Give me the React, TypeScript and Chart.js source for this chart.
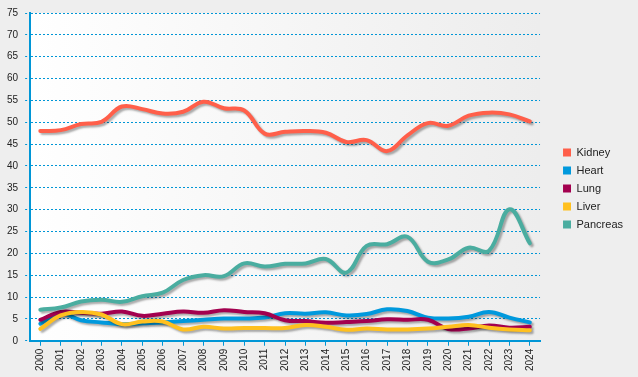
import React, { useEffect, useRef } from "react";
import { Chart, registerables } from "chart.js";

Chart.register(...registerables);

const years = [
  "2000", "2001", "2002", "2003", "2004", "2005", "2006", "2007", "2008", "2009",
  "2010", "2011", "2012", "2013", "2014", "2015", "2016", "2017", "2018", "2019",
  "2020", "2021", "2022", "2023", "2024",
];

const kidney = [48.0, 48.2, 49.6, 50.1, 53.6, 53.0, 52.0, 52.4, 54.7, 53.2, 52.7, 47.4, 47.8, 48.0, 47.6, 45.5, 45.9, 43.4, 47.0, 49.8, 49.2, 51.5, 52.2, 51.8, 50.2];
const heart = [3.9, 6.2, 4.7, 4.2, 3.8, 4.0, 4.2, 4.5, 4.8, 5.1, 5.1, 5.3, 6.3, 6.2, 6.5, 5.8, 6.1, 7.2, 6.8, 5.3, 5.1, 5.5, 6.6, 5.3, 4.2];
const lung = [4.8, 6.6, 6.4, 6.2, 6.7, 5.7, 6.2, 6.7, 6.4, 7.0, 6.6, 6.3, 4.7, 4.5, 4.1, 4.3, 4.5, 4.9, 4.8, 4.8, 2.7, 2.8, 3.5, 3.0, 3.2];
const liver = [2.7, 5.8, 6.6, 6.0, 3.8, 4.4, 4.4, 2.6, 3.2, 2.8, 2.9, 2.9, 2.9, 3.6, 3.2, 2.5, 2.8, 2.6, 2.6, 2.8, 3.2, 3.6, 3.0, 2.6, 2.4];
const pancreas = [7.1, 7.6, 9.0, 9.4, 8.9, 10.2, 11.0, 13.9, 15.0, 14.8, 17.7, 17.0, 17.6, 17.7, 18.7, 15.6, 21.7, 22.1, 23.8, 18.1, 18.6, 21.3, 20.6, 30.1, 22.3];

const seriesNames = ["Kidney", "Heart", "Lung", "Liver", "Pancreas"];
const seriesColors = ["#ff5f4a", "#0099dd", "#a3004f", "#ffc01f", "#4aada0"];
const seriesData = [kidney, heart, lung, liver, pancreas];

const yTicks = [0, 5, 10, 15, 20, 25, 30, 35, 40, 45, 50, 55, 60, 65, 70, 75];

const AXIS_BLUE = "#0096d6";

const bgPlugin = {
  id: "bgPlugin",
  afterLayout(chart: any) {
    if (chart.legend) {
      chart.legend.top -= 2;
      chart.legend.bottom -= 2;
    }
  },
  beforeDraw(chart: any) {
    const { ctx, chartArea, width, height } = chart;
    ctx.save();
    ctx.fillStyle = "#eeeeee";
    ctx.fillRect(0, 0, width, height);
    if (chartArea) {
      const g = ctx.createLinearGradient(chartArea.left, 0, chartArea.right, 0);
      g.addColorStop(0, "#ffffff");
      g.addColorStop(1, "#ededed");
      ctx.fillStyle = g;
      ctx.fillRect(chartArea.left, chartArea.top, chartArea.right - chartArea.left, chartArea.bottom - chartArea.top);
    }
    ctx.restore();
  },
};

const shadowPlugin = {
  id: "shadowPlugin",
  beforeDatasetDraw(chart: any) {
    const ctx = chart.ctx;
    ctx.save();
    ctx.shadowColor = "rgba(0,0,0,0.32)";
    ctx.shadowOffsetX = 2;
    ctx.shadowOffsetY = 2;
    ctx.shadowBlur = 2;
  },
  afterDatasetDraw(chart: any) {
    chart.ctx.restore();
  },
};

export default function App() {
  const ref = useRef<HTMLCanvasElement | null>(null);

  useEffect(() => {
    document.body.style.margin = "0";
    document.body.style.background = "#eeeeee";
    if (!ref.current) return;
    const chart = new Chart(ref.current, {
      type: "line",
      data: {
        labels: years,
        datasets: seriesNames.map((name, i) => ({
          label: name,
          data: seriesData[i],
          order: -i,
          borderColor: seriesColors[i],
          backgroundColor: seriesColors[i],
          borderWidth: 4,
          pointRadius: 0,
          pointHoverRadius: 0,
          tension: 0.4,
          fill: false,
          borderCapStyle: "round",
          borderJoinStyle: "round",
        })),
      },
      options: {
        animation: false,
        responsive: false,
        maintainAspectRatio: false,
        events: [],
        layout: { padding: { left: 0, top: 7, right: 5, bottom: 3 } },
        plugins: {
          tooltip: { enabled: false },
          legend: {
            position: "right",
            labels: {
              boxWidth: 8,
              boxHeight: 8,
              padding: 7,
              color: "#222222",
              font: { family: "'Liberation Sans', Arial, sans-serif", size: 11 },
              sort: (a: any, b: any) => a.datasetIndex - b.datasetIndex,
              generateLabels: (c: any) =>
                Chart.defaults.plugins.legend.labels
                  .generateLabels(c)
                  .map((l: any) => ({ ...l, lineWidth: 0, fillStyle: seriesColors[l.datasetIndex], strokeStyle: seriesColors[l.datasetIndex] })),
            },
          },
        },
        scales: {
          x: {
            type: "category",
            offset: true,
            grid: {
              display: true,
              drawOnChartArea: false,
              drawTicks: true,
              tickLength: 5,
              tickColor: AXIS_BLUE,
              tickWidth: 1,
              offset: false,
            },
            border: { display: true, color: AXIS_BLUE, width: 2 },
            ticks: {
              autoSkip: false,
              maxRotation: 90,
              minRotation: 90,
              padding: 3,
              color: "#222222",
              font: { family: "'Liberation Sans', Arial, sans-serif", size: 10 },
            },
          },
          y: {
            min: 0,
            max: 75,
            afterBuildTicks: (s: any) => {
              s.ticks = yTicks.map((v) => ({ value: v }));
            },
            grid: {
              color: (c: any) => (c.tick && c.tick.value === 0 ? "rgba(0,0,0,0)" : AXIS_BLUE),
              lineWidth: 1,
              drawTicks: true,
              tickLength: 5,
              tickColor: AXIS_BLUE,
              tickBorderDash: [2, 2],
            },
            border: { display: true, color: AXIS_BLUE, width: 2, dash: [2, 2] },
            ticks: {
              padding: 7,
              color: "#222222",
              font: { family: "'Liberation Sans', Arial, sans-serif", size: 10 },
            },
          },
          gap: {
            type: "linear",
            position: "right",
            display: true,
            grid: { display: false, drawOnChartArea: false },
            border: { display: false },
            ticks: { display: false },
            afterFit: (s: any) => {
              s.width = 16;
            },
          },
        },
      },
      plugins: [bgPlugin, shadowPlugin],
    } as any);
    return () => chart.destroy();
  }, []);

  return <canvas ref={ref} width={638} height={377} style={{ display: "block" }} />;
}
